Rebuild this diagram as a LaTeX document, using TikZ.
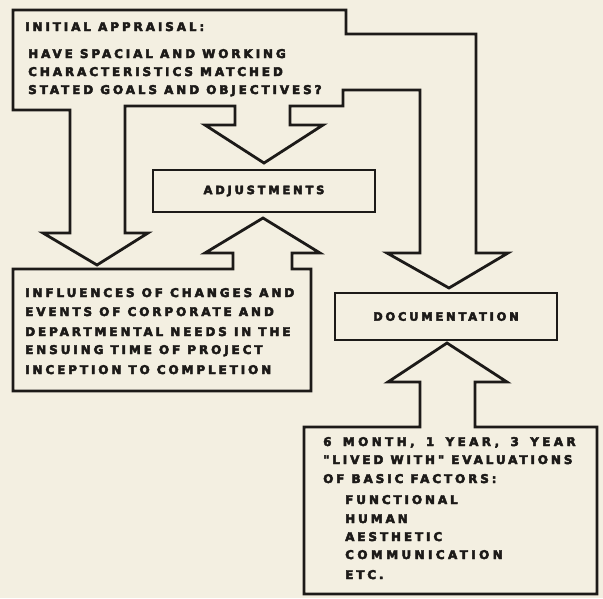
\documentclass[tikz,border=0pt]{standalone}
\usepackage{fontspec}
\setmainfont{DejaVu Sans}
\newfontfamily\labelfont[LetterSpace=24,FakeBold=4]{DejaVu Sans Bold}
\newfontfamily\widelabelfont[LetterSpace=28,WordSpace=1.5,FakeBold=4]{DejaVu Sans Bold}
\definecolor{paper}{RGB}{243,239,225}
\definecolor{ink}{RGB}{28,26,24}
\begin{document}
\begin{tikzpicture}[x=1pt,y=-1pt,
  outline/.style={draw=ink,line width=2.8pt,line join=miter},
  caption/.style={anchor=base west,inner sep=0pt,text=ink,font=\labelfont\fontsize{12}{14}\selectfont},
  widecaption/.style={caption,font=\widelabelfont\fontsize{12}{14}\selectfont},
  boxlabel/.style={outline,inner sep=0pt,minimum width=222pt,text=ink,font=\labelfont\fontsize{11.5}{13}\selectfont}
]
\useasboundingbox (0,0) rectangle (603,598);
\fill[paper] (0,0) rectangle (603,598);

% appraisal block with its three outgoing arrows
\draw[outline] (13,10) -- (346,10) -- (346,34) -- (476,34) -- (476,253) -- (508,253)
  -- (449,288) -- (387,253) -- (420,253) -- (420,90) -- (343,90) -- (343,106)
  -- (290,106) -- (290,125) -- (323,125) -- (264,163) -- (205,125) -- (235,125)
  -- (235,106) -- (125,106) -- (125,233) -- (148,233) -- (97,265) -- (43,233)
  -- (70,233) -- (70,110) -- (13,110) -- cycle;

% influences block with the arrow up to the adjustments
\draw[outline] (13,269) -- (233,269) -- (233,253) -- (205,253) -- (263,218)
  -- (320,253) -- (292,253) -- (292,269) -- (311,269) -- (311,391) -- (13,391) -- cycle;

% evaluations block with the arrow up to the documentation
\draw[outline] (304,427) -- (420,427) -- (420,382) -- (388,382) -- (447,343)
  -- (507,382) -- (475,382) -- (475,427) -- (597,427) -- (597,594) -- (304,594) -- cycle;

% the two small boxes
\node[boxlabel,minimum height=42pt] (adjust) at (264,191) {ADJUSTMENTS};
\node[boxlabel,minimum height=47pt] (docu) at (446,316.5) {DOCUMENTATION};

% appraisal text
\node[caption] (ap1) at (25,31) {INITIAL APPRAISAL:};
\node[caption] (ap2) at (28,58) {HAVE SPACIAL AND WORKING};
\node[caption] (ap3) at (28,76) {CHARACTERISTICS MATCHED};
\node[caption] (ap4) at (28,94) {STATED GOALS AND OBJECTIVES?};

% influences text
\node[caption] (in1) at (25,297) {INFLUENCES OF CHANGES AND};
\node[caption] (in2) at (25,316) {EVENTS OF CORPORATE AND};
\node[caption] (in3) at (25,336) {DEPARTMENTAL NEEDS IN THE};
\node[caption] (in4) at (25,354) {ENSUING TIME OF PROJECT};
\node[caption] (in5) at (25,374) {INCEPTION TO COMPLETION};

% evaluations text
\node[widecaption] (ev1) at (323,446) {6 MONTH, 1 YEAR, 3 YEAR};
\node[caption] (ev2) at (323,464) {"LIVED WITH" EVALUATIONS};
\node[caption] (ev3) at (323,483) {OF BASIC FACTORS:};
\node[caption] (ev4) at (345,504) {FUNCTIONAL};
\node[caption] (ev5) at (345,523) {HUMAN};
\node[caption] (ev6) at (345,541) {AESTHETIC};
\node[widecaption] (ev7) at (345,559) {COMMUNICATION};
\node[caption] (ev8) at (345,579) {ETC.};
\end{tikzpicture}
\end{document}
